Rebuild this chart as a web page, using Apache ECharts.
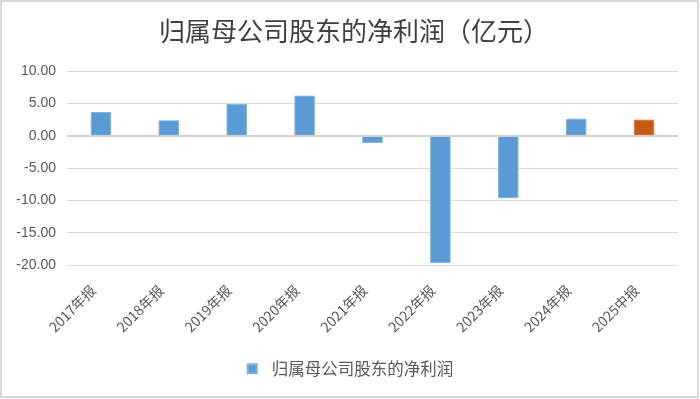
<!DOCTYPE html>
<html>
<head>
<meta charset="utf-8">
<style>
  html, body { margin: 0; padding: 0; background: #fff; }
  #chart { width: 700px; height: 399px; }
</style>
<script src="https://cdn.jsdelivr.net/npm/echarts@6/dist/echarts.min.js"></script>
</head>
<body>
<div id="chart"></div>
<script>
const categories = ['2017年报', '2018年报', '2019年报', '2020年报', '2021年报', '2022年报', '2023年报', '2024年报', '2025中报'];
const profits = [3.66, 2.36, 4.89, 6.18, -1.12, -19.7, -9.66, 2.62, 2.47];
const seriesName = '归属母公司股东的净利润';
const yTicks = { min: -20, max: 10, interval: 5 };

const blue = '#5B9BD5';
const orange = '#C55A11';
const font = '"Noto Sans CJK SC", "Liberation Sans", sans-serif';

const chart = echarts.init(document.getElementById('chart'), null, { renderer: 'canvas' });

// 最后一期（中报）单独用橙色
const barData = profits.map((v, i) => ({
  value: v,
  itemStyle: i === profits.length - 1 ? { color: orange, borderColor: '#E07B3C' } : undefined
}));

chart.setOption({
  animation: false,
  backgroundColor: '#fff',
  title: {
    text: '归属母公司股东的净利润（亿元）',
    left: 349,
    textAlign: 'center',
    top: 13,
    textStyle: { fontFamily: font, fontSize: 26, fontWeight: 'normal', color: '#404040' }
  },
  graphic: [{
    type: 'rect',
    shape: { x: 1, y: 1, width: 697, height: 396 },
    style: { fill: 'none', stroke: '#d9d9d9', lineWidth: 2 },
    silent: true
  }],
  legend: {
    bottom: 17,
    left: 'center',
    itemWidth: 9,
    itemHeight: 9,
    itemGap: 12,
    icon: 'rect',
    textStyle: { fontFamily: font, fontSize: 16.5, color: '#595959', padding: [0, 0, 0, 10] },
    data: [{ name: seriesName, itemStyle: { color: blue } }]
  },
  grid: { left: 67, right: 22, top: 71, bottom: 134, containLabel: false },
  xAxis: {
    type: 'category',
    data: categories,
    axisLine: { show: false, onZero: false },
    axisTick: { show: false },
    axisLabel: {
      rotate: 45,
      margin: 15,
      padding: [0, 11, 0, 0],
      fontFamily: font,
      fontSize: 14,
      color: '#595959'
    }
  },
  yAxis: {
    type: 'value',
    min: yTicks.min,
    max: yTicks.max,
    interval: yTicks.interval,
    axisLine: { show: false },
    axisTick: { show: false },
    splitLine: { lineStyle: { color: '#d9d9d9', width: 1 } },
    axisLabel: {
      margin: 11,
      fontFamily: '"Liberation Sans", sans-serif',
      fontSize: 14,
      color: '#595959',
      formatter: v => v.toFixed(2)
    }
  },
  series: [{
    name: seriesName,
    type: 'bar',
    data: barData,
    barWidth: '30%',
    itemStyle: { color: blue, borderColor: '#7FB2E0', borderWidth: 1 },
    markLine: {
      silent: true,
      symbol: 'none',
      label: { show: false },
      lineStyle: { color: '#d0d0d0', width: 2, type: 'solid' },
      data: [{ yAxis: 0 }]
    }
  }]
});
</script>
</body>
</html>
